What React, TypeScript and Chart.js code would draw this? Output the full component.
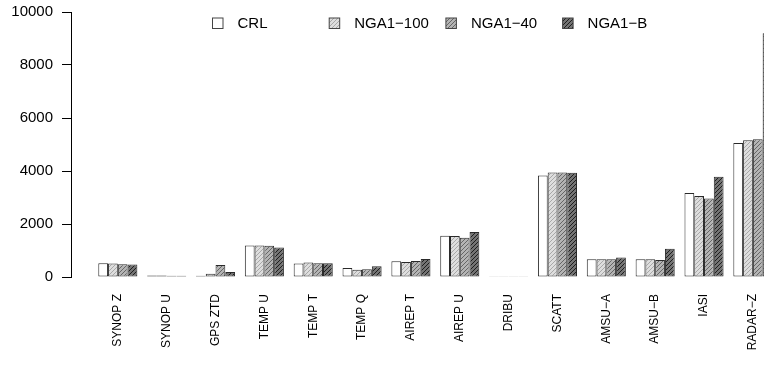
import React, { useEffect, useRef } from "react";
import { Chart, registerables } from "chart.js";

Chart.register(...registerables);

const categories = [
  "SYNOP Z", "SYNOP U", "GPS ZTD", "TEMP U", "TEMP T", "TEMP Q", "AIREP T",
  "AIREP U", "DRIBU", "SCATT", "AMSU−A", "AMSU−B", "IASI", "RADAR−Z",
];
const seriesNames = ["CRL", "NGA1−100", "NGA1−40", "NGA1−B"];
const crl = [520, 60, 50, 1190, 510, 340, 590, 1560, 30, 3830, 670, 670, 3170, 5060];
const nga100 = [510, 55, 120, 1190, 550, 270, 570, 1550, 30, 3940, 670, 670, 3060, 5160];
const nga40 = [480, 50, 450, 1180, 520, 290, 600, 1480, 30, 3940, 670, 640, 2960, 5200];
const ngaB = [470, 50, 190, 1110, 520, 410, 680, 1700, 30, 3930, 740, 1070, 3780, 9200];
const yTicks = [0, 2000, 4000, 6000, 8000, 10000];

const FONT = "'Liberation Sans', Arial, Helvetica, sans-serif";

function hatch(bg: string, line: string, size = 4, lw = 1): CanvasPattern | string {
  const c = document.createElement("canvas");
  c.width = size;
  c.height = size;
  const g = c.getContext("2d");
  if (!g) return bg;
  g.fillStyle = bg;
  g.fillRect(0, 0, size, size);
  g.strokeStyle = line;
  g.lineWidth = lw;
  g.beginPath();
  g.moveTo(0, size);
  g.lineTo(size, 0);
  g.moveTo(-1, 1);
  g.lineTo(1, -1);
  g.moveTo(size - 1, size + 1);
  g.lineTo(size + 1, size - 1);
  g.stroke();
  return g.createPattern(c, "repeat") || bg;
}

const legendPlugin = {
  id: "rLegend",
  afterDraw(chart: any) {
    const ctx = chart.ctx;
    const x0 = 212.5;
    const step = 116.7;
    const y0 = 18;
    const box = 10.5;
    ctx.save();
    ctx.font = `15px ${FONT}`;
    ctx.textBaseline = "middle";
    ctx.textAlign = "left";
    chart.data.datasets.forEach((ds: any, i: number) => {
      const bx = x0 + i * step;
      ctx.fillStyle = ds.backgroundColor;
      ctx.fillRect(bx, y0, box, box);
      ctx.strokeStyle = "#444";
      ctx.lineWidth = 1;
      ctx.strokeRect(bx, y0, box, box);
      ctx.fillStyle = "#000";
      ctx.fillText(ds.label, bx + 25, y0 + box / 2 + 0.5);
    });
    ctx.restore();
  },
};

const zeroPad = (s: any) => {
  s.paddingTop = 0;
  s.paddingBottom = 0;
  s.paddingLeft = 0;
  s.paddingRight = 0;
};

export default function App() {
  const ref = useRef<HTMLCanvasElement | null>(null);

  useEffect(() => {
    if (!ref.current) return;
    const fills = [
      "#ffffff",
      hatch("#dedede", "#a8a8a8"),
      hatch("#b4b4b4", "#666666"),
      hatch("#747474", "#1e1e1e"),
    ];
    const values = [crl, nga100, nga40, ngaB];
    const chart = new Chart(ref.current, {
      type: "bar",
      data: {
        labels: categories,
        datasets: seriesNames.map((name, i) => ({
          label: name,
          data: values[i],
          backgroundColor: fills[i] as any,
          borderColor: "#2a2a2a",
          borderWidth: 1,
          borderSkipped: false,
          categoryPercentage: 0.8,
          barPercentage: 1.0,
          yAxisID: "y",
          clip: false as any,
        })),
      },
      options: {
        animation: false,
        responsive: false,
        maintainAspectRatio: false,
        devicePixelRatio: 1,
        layout: { padding: { top: 12, right: 22.7, bottom: 0, left: 0 } },
        plugins: {
          legend: { display: false },
          tooltip: { enabled: false },
        },
        scales: {
          x: {
            type: "category",
            offset: true,
            grid: { display: false, drawTicks: false },
            border: { display: false },
            ticks: {
              autoSkip: false,
              minRotation: 90,
              maxRotation: 90,
              padding: 17,
              color: "#000",
              font: { family: FONT, size: 12 },
            },
            afterFit: (s: any) => {
              s.height = 94;
              zeroPad(s);
            },
          },
          y: {
            type: "linear",
            axis: "y",
            position: "left",
            weight: 1,
            min: 0,
            max: 10000,
            afterBuildTicks: (s: any) => {
              s.ticks = yTicks.map((v) => ({ value: v }));
            },
            grid: { drawOnChartArea: false, drawTicks: true, tickLength: 9, color: "#000" },
            border: { display: true, color: "#000", width: 1 },
            ticks: {
              padding: 9,
              color: "#000",
              font: { family: FONT, size: 15 },
              callback: (v: any) => String(v),
            },
            afterFit: (s: any) => {
              s.width = 71;
              zeroPad(s);
            },
          },
          pad: {
            type: "linear",
            axis: "y",
            position: "left",
            weight: 0,
            display: true,
            grid: { display: false, drawTicks: false },
            border: { display: false },
            ticks: { display: false },
            afterFit: (s: any) => {
              s.width = 22.4;
              zeroPad(s);
            },
          },
        } as any,
      },
      plugins: [legendPlugin],
    });
    return () => chart.destroy();
  }, []);

  return (
    <div
      style={{
        position: "fixed",
        left: 0,
        top: 0,
        width: 764,
        height: 371,
        overflow: "hidden",
        background: "#fff",
      }}
    >
      <canvas ref={ref} width={800} height={371} style={{ display: "block", width: 800, height: 371 }} />
    </div>
  );
}
